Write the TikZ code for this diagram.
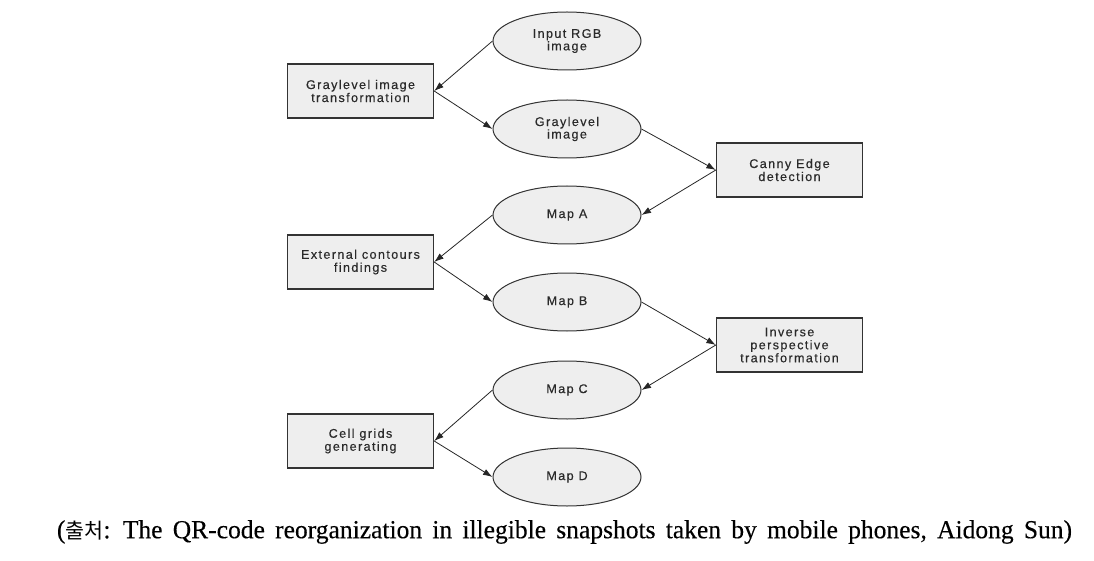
\documentclass[tikz,border=0pt]{standalone}
\usepackage{fontspec}
\usepackage{graphicx}
\setmainfont{Liberation Serif}
\newfontfamily\nodefont[LetterSpace=11,FakeBold=0.35]{Liberation Sans}
\newfontfamily\capfont[FakeBold=0.25]{Liberation Serif}
\newfontfamily\krfont{Noto Sans CJK KR}
\usetikzlibrary{arrows.meta,shapes.geometric}
\definecolor{fillgray}{HTML}{EEEEEE}
\definecolor{linegray}{HTML}{333333}
\definecolor{textgray}{HTML}{2A2A2A}
\tikzset{
  stepbox/.style={draw=linegray, line width=1.4pt, fill=fillgray, rectangle,
    minimum width=146pt, minimum height=54pt, inner sep=0pt, align=center,
    text=textgray, font=\nodefont\fontsize{12.6}{13}\selectfont},
  dataell/.style={draw=linegray, line width=1pt, fill=fillgray, ellipse,
    minimum width=148pt, minimum height=58pt, inner sep=0pt, align=center,
    text=textgray, font=\nodefont\fontsize{12.6}{12.5}\selectfont},
  arr/.style={draw=black!85, line width=0.8pt, -{Latex[length=9.5pt,width=6.5pt]}},
}
\begin{document}
\begin{tikzpicture}[x=1pt,y=-1pt]
\useasboundingbox (0,0) rectangle (1094,561);
% ellipses
\node[dataell] (rgb)  at (567,41)  {Input RGB\\image};
\node[dataell] (gray) at (567,129) {Graylevel\\image};
\node[dataell] (mapa) at (567,215) {Map A};
\node[dataell] (mapb) at (567,302) {Map B};
\node[dataell] (mapc) at (567,390) {Map C};
\node[dataell] (mapd) at (567,477) {Map D};
% boxes
\node[stepbox] (gt)    at (360.5,91)  {Graylevel image\\transformation};
\node[stepbox] (canny) at (789.5,170) {Canny Edge\\detection};
\node[stepbox] (ext)   at (360.5,262) {External contours\\findings};
\node[stepbox] (inv)   at (789.5,345) {Inverse\\perspective\\transformation};
\node[stepbox] (cell)  at (360.5,441) {Cell grids\\generating};
% connectors
\draw[arr] (rgb.west) -- (gt.east);
\draw[arr] (gt.east) -- (gray.west);
\draw[arr] (gray.east) -- (canny.west);
\draw[arr] (canny.west) -- (mapa.east);
\draw[arr] (mapa.west) -- (ext.east);
\draw[arr] (ext.east) -- (mapb.west);
\draw[arr] (mapb.east) -- (inv.west);
\draw[arr] (inv.west) -- (mapc.east);
\draw[arr] (mapc.west) -- (cell.east);
\draw[arr] (cell.east) -- (mapd.west);
% caption
\node[inner sep=0pt] (cap) at (564.5,532) {\resizebox{1015pt}{\height}{\fontsize{26}{28}\capfont\spaceskip=0.4em plus 0.1em (\krfont\fontsize{21}{28}\selectfont 출처\capfont\fontsize{26}{28}\selectfont: The QR-code reorganization in illegible snapshots taken by mobile phones, Aidong Sun)}};
\end{tikzpicture}
\end{document}
